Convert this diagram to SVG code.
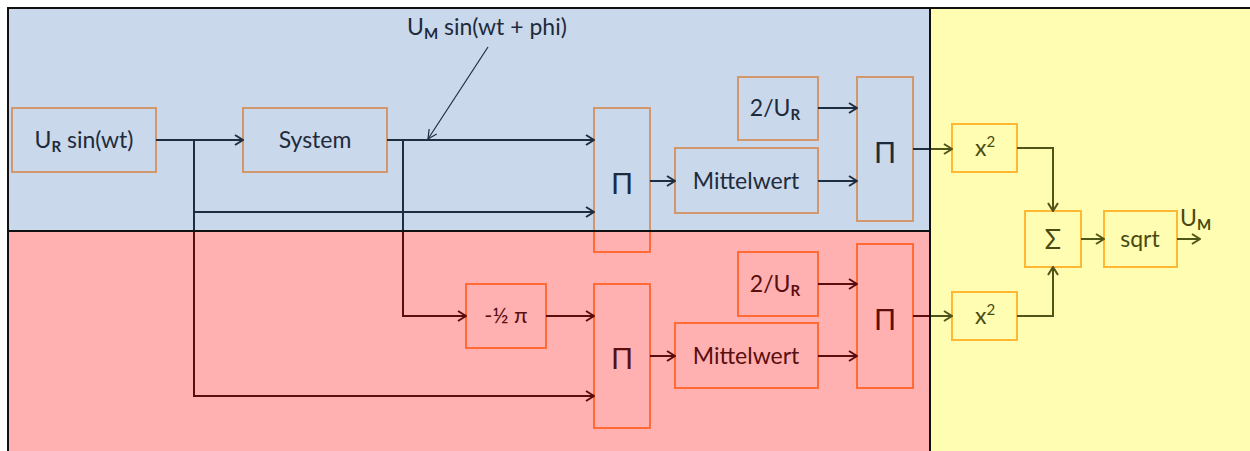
<svg xmlns="http://www.w3.org/2000/svg" width="1250" height="451" viewBox="0 0 1250 451">
  <defs>
    <style>
      text { font-family: Lato, "Open Sans", "Liberation Sans", sans-serif; font-size: 23px; text-anchor: middle; }
      .sub { font-size: 15px; font-weight: bold; }
      .sup { font-size: 15px; }
      .nb { fill: none; stroke: #D3976C; stroke-width: 2; }
      .nr { fill: none; stroke: #FF6A35; stroke-width: 2; }
      .ny { fill: none; stroke: #FFB833; stroke-width: 2; }
      .tb { fill: #1E2B3C; }
      .tr { fill: #5A0E0E; }
      .ty { fill: #4A4A12; }
      .cb { fill: none; stroke: #1F2D3F; stroke-width: 2; }
      .cr { fill: none; stroke: #5A0D0D; stroke-width: 2; }
      .cy { fill: none; stroke: #4F5418; stroke-width: 2; }
      .ab { marker-end: url(#arrB); }
      .ar { marker-end: url(#arrR); }
      .ay { marker-end: url(#arrY); }
      .pi { font-size: 29px; }
    </style>
    <marker id="arrB" viewBox="0 0 12 12" refX="11" refY="6" markerWidth="12" markerHeight="12" markerUnits="userSpaceOnUse" orient="auto">
      <path d="M3,1 L11,6 L3,11" fill="none" stroke="#1F2D3F" stroke-width="2"/>
    </marker>
    <marker id="arrR" viewBox="0 0 12 12" refX="11" refY="6" markerWidth="12" markerHeight="12" markerUnits="userSpaceOnUse" orient="auto">
      <path d="M3,1 L11,6 L3,11" fill="none" stroke="#5A0D0D" stroke-width="2"/>
    </marker>
    <marker id="arrY" viewBox="0 0 12 12" refX="11" refY="6" markerWidth="12" markerHeight="12" markerUnits="userSpaceOnUse" orient="auto">
      <path d="M3,1 L11,6 L3,11" fill="none" stroke="#4F5418" stroke-width="2"/>
    </marker>
    <marker id="arrThin" viewBox="0 0 12 12" refX="11" refY="6" markerWidth="12" markerHeight="12" markerUnits="userSpaceOnUse" orient="auto">
      <path d="M2,1.5 L11,6 L2,10.5" fill="none" stroke="#1F2D3F" stroke-width="1.2"/>
    </marker>
    <clipPath id="upper"><rect x="0" y="0" width="1250" height="231"/></clipPath>
    <clipPath id="lower"><rect x="0" y="231" width="1250" height="220"/></clipPath>
  </defs>

  <!-- background regions -->
  <g id="regions">
    <rect x="0" y="0" width="1250" height="451" fill="#FFFFFF"/>
    <rect x="8" y="8" width="922" height="223" fill="#C9D8EB"/>
    <rect x="8" y="231" width="922" height="220" fill="#FFB1B1"/>
    <rect x="930" y="8" width="320" height="443" fill="#FFFDB1"/>
  </g>

  <!-- upper branch -->
  <g id="source">
    <rect class="nb" x="12" y="108" width="144" height="64"/>
    <text class="tb" x="84" y="148">U<tspan class="sub" dy="4">R</tspan><tspan dy="-4"> sin(wt)</tspan></text>
  </g>
  <g id="system">
    <rect class="nb" x="243" y="108" width="144" height="64"/>
    <text class="tb" x="315" y="148">System</text>
  </g>
  <g id="product1">
    <rect class="nb" x="594" y="108" width="56" height="144" clip-path="url(#upper)"/>
    <rect class="nr" x="594" y="108" width="56" height="144" clip-path="url(#lower)"/>
    <text class="tb pi" x="622" y="194">Π</text>
  </g>
  <g id="mean1">
    <rect class="nb" x="675" y="148" width="143" height="65"/>
    <text class="tb" x="746" y="189">Mittelwert</text>
  </g>
  <g id="scale1">
    <rect class="nb" x="738" y="77" width="80" height="63"/>
    <text class="tb" x="775" y="116">2/U<tspan class="sub" dy="4">R</tspan></text>
  </g>
  <g id="product2">
    <rect class="nb" x="857" y="77" width="56" height="144"/>
    <text class="tb pi" x="885" y="163">Π</text>
  </g>

  <!-- lower branch -->
  <g id="shift">
    <rect class="nr" x="466" y="284" width="80" height="64"/>
    <text class="tr" x="506" y="323" style="font-size:22px">-½ π</text>
  </g>
  <g id="product3">
    <rect class="nr" x="594" y="284" width="56" height="144"/>
    <text class="tr pi" x="622" y="369">Π</text>
  </g>
  <g id="mean2">
    <rect class="nr" x="675" y="323" width="143" height="65"/>
    <text class="tr" x="746" y="364">Mittelwert</text>
  </g>
  <g id="scale2">
    <rect class="nr" x="738" y="252" width="80" height="64"/>
    <text class="tr" x="775" y="292">2/U<tspan class="sub" dy="4">R</tspan></text>
  </g>
  <g id="product4">
    <rect class="nr" x="857" y="244" width="56" height="144"/>
    <text class="tr pi" x="885" y="330">Π</text>
  </g>

  <!-- combining stage -->
  <g id="square1">
    <rect class="ny" x="952" y="124" width="65" height="48"/>
    <text class="ty" x="985" y="156">x<tspan class="sup" dy="-9">2</tspan></text>
  </g>
  <g id="square2">
    <rect class="ny" x="952" y="292" width="65" height="48"/>
    <text class="ty" x="985" y="324">x<tspan class="sup" dy="-9">2</tspan></text>
  </g>
  <g id="sum">
    <rect class="ny" x="1025" y="211" width="56" height="56"/>
    <text class="ty" x="1053" y="249" style="font-size:27px">Σ</text>
  </g>
  <g id="sqrt">
    <rect class="ny" x="1104" y="211" width="73" height="56"/>
    <text class="ty" x="1140" y="247">sqrt</text>
  </g>

  <!-- signal labels -->
  <g id="label-um">
    <text class="tb" x="407" y="35" style="text-anchor:start">U<tspan class="sub" dy="4">M</tspan><tspan dy="-4"> sin(wt + phi)</tspan></text>
  </g>
  <g id="label-out">
    <text class="ty" x="1180" y="226" style="text-anchor:start">U<tspan class="sub" dy="4">M</tspan></text>
  </g>

  <!-- connectors -->
  <g id="connectors">
    <path class="cb ab" d="M156,140 H243"/>
    <path class="cb" d="M194,140 V231"/>
    <path class="cr ar" d="M194,231 V396 H594"/>
    <path class="cb ab" d="M194,212 H594"/>
    <path class="cb ab" d="M387,140 H594"/>
    <path class="cb" d="M403,140 V231"/>
    <path class="cr ar" d="M403,231 V316 H466"/>
    <path class="cb ab" d="M650,181 H675"/>
    <path class="cb ab" d="M818,108 H857"/>
    <path class="cb ab" d="M818,181 H857"/>
    <path class="cb" d="M913,149 H930"/>
    <path class="cy ay" d="M930,149 H952"/>
    <path class="cr ar" d="M546,316 H594"/>
    <path class="cr ar" d="M650,356 H675"/>
    <path class="cr ar" d="M818,284 H857"/>
    <path class="cr ar" d="M818,356 H857"/>
    <path class="cr" d="M913,316 H930"/>
    <path class="cy ay" d="M930,316 H952"/>
    <path class="cy ay" d="M1017,148 H1053 V211"/>
    <path class="cy ay" d="M1017,316 H1053 V267"/>
    <path class="cy ay" d="M1081,239 H1104"/>
    <path class="cy ay" d="M1177,239 H1200"/>
    <path d="M488,47 L428,139" fill="none" stroke="#1F2D3F" stroke-width="1.2" marker-end="url(#arrThin)"/>
  </g>

  <!-- region borders -->
  <g id="borders" fill="none" stroke="#111111" stroke-width="2">
    <path d="M8,451 V8 H1250"/>
    <path d="M8,231 H930"/>
    <path d="M930,8 V451"/>
  </g>
</svg>
